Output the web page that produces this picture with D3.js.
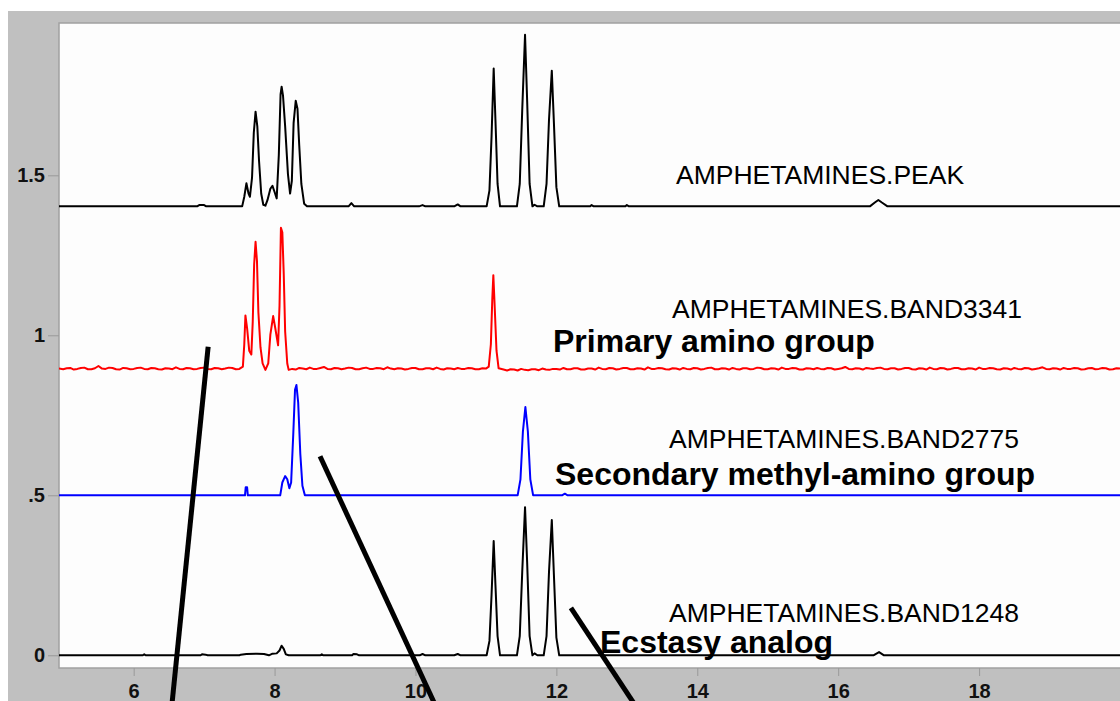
<!DOCTYPE html>
<html>
<head>
<meta charset="utf-8">
<script src="https://cdn.jsdelivr.net/npm/d3@7"></script>
<style>
  html, body { margin: 0; padding: 0; background: #ffffff; }
  svg { display: block; }
  text { font-family: Arial, "Liberation Sans", sans-serif; }
</style>
</head>
<body>
<svg id="chart" width="1120" height="701"></svg>
<script>
// ---------- data ----------
const xTicks = [6, 8, 10, 12, 14, 16, 18];
const yTicks = [0, 0.5, 1, 1.5];
const yTickLabels = ["0", ".5", "1", "1.5"];

const seriesNames = ["AMPHETAMINES.PEAK", "AMPHETAMINES.BAND3341", "AMPHETAMINES.BAND2775", "AMPHETAMINES.BAND1248"];
const seriesOffsets = [1.403, 0.892, 0.5, 0.0];
const seriesColors = ["#000000", "#ff0000", "#0000ff", "#000000"];
const groupNotes = ["", "Primary amino group", "Secondary methyl-amino group", "Ecstasy analog"];

// [retention time, signal above baseline]
const peakTrace = [
  [4.94,0],[6.9,0],[6.93,0.004],[7.0,0.004],[7.03,0],
  [7.54,0],[7.57,0.03],[7.6,0.072],[7.63,0.04],[7.65,0.03],[7.68,0.09],[7.705,0.23],[7.73,0.296],[7.755,0.25],[7.78,0.14],[7.81,0.04],[7.84,0.005],[7.87,0.002],
  [7.9,0.02],[7.94,0.055],[7.97,0.064],[8.0,0.045],[8.03,0.025],[8.06,0.16],[8.085,0.35],[8.1,0.374],[8.12,0.345],[8.15,0.25],[8.19,0.1],[8.22,0.04],[8.245,0.08],[8.27,0.26],[8.3,0.33],[8.325,0.305],[8.35,0.19],[8.38,0.07],[8.42,0.008],[8.46,0],
  [9.05,0],[9.09,0.01],[9.13,0],[10.05,0],[10.1,0.004],[10.14,0],[10.55,0],[10.6,0.006],[10.64,0],
  [11.01,0],[11.05,0.05],[11.08,0.22],[11.11,0.431],[11.135,0.27],[11.165,0.07],[11.2,0],
  [11.44,0],[11.48,0.07],[11.515,0.3],[11.555,0.536],[11.585,0.33],[11.62,0.07],[11.66,0],
  [11.69,0.005],[11.73,0],
  [11.82,0],[11.86,0.07],[11.895,0.27],[11.935,0.424],[11.965,0.26],[12.0,0.06],[12.04,0],
  [12.48,0],[12.5,0.004],[12.53,0],[12.98,0],[13.0,0.004],[13.03,0],
  [16.45,0],[16.52,0.012],[16.57,0.02],[16.62,0.012],[16.7,0],[20,0]
];

const band3341Trace = [
  [4.94,0.004],[5.0,0.002],[5.05,0.005],[5.1,0.006],[5.15,0.001],[5.2,0.003],[5.25,0.006],[5.3,0.007],[5.35,0.002],[5.4,0.002],[5.45,0.005],[5.5,0.012],[5.55,0.004],[5.6,0.003],[5.65,0.007],[5.7,0.006],[5.75,0.002],[5.8,0.001],[5.85,0.006],[5.9,0.005],[5.95,0.002],[6.0,0.003],[6.05,0.006],[6.1,0.007],[6.15,0.003],[6.2,0.002],[6.25,0.006],[6.3,0.005],[6.35,0.002],[6.4,0.001],[6.45,0.005],[6.5,0.004],[6.55,0.002],[6.6,0.008],[6.65,0.003],[6.7,0.002],[6.75,0.006],[6.8,0.005],[6.85,0.002],[6.9,0.003],[6.95,0.006],[7.0,0.007],[7.05,0.003],[7.1,0.002],[7.15,0.006],[7.2,0.005],[7.25,0.002],[7.3,0.004],[7.35,0.007],[7.4,0.006],[7.45,0.002],[7.5,0.003],
  [7.55,0.01],[7.57,0.08],[7.586,0.17],[7.61,0.13],[7.64,0.06],[7.67,0.048],[7.69,0.15],[7.71,0.33],[7.73,0.40],[7.75,0.34],[7.77,0.18],[7.8,0.07],[7.83,0.02],[7.87,0.0],[7.91,0.02],[7.94,0.11],[7.98,0.168],[8.01,0.13],[8.05,0.077],[8.07,0.2],[8.09,0.444],[8.11,0.43],[8.13,0.3],[8.15,0.12],[8.18,0.02],[8.2,0.0],
  [8.25,0.003],[8.3,0.001],[8.35,0.006],[8.4,0.004],[8.45,0.002],[8.5,0.007],[8.55,0.003],[8.6,0.003],[8.65,0.006],[8.7,0.009],[8.75,0.003],[8.8,0.002],[8.85,0.006],[8.9,0.005],[8.95,0.002],[9.0,0.004],[9.05,0.007],[9.1,0.006],[9.15,0.002],[9.2,0.002],[9.25,0.005],[9.3,0.007],[9.35,0.003],[9.4,0.003],[9.45,0.006],[9.5,0.005],[9.55,0.002],[9.6,0.008],[9.65,0.004],[9.7,0.002],[9.75,0.005],[9.8,0.004],[9.85,0.001],[9.9,0.003],[9.95,0.006],[10.0,0.006],[10.05,0.002],[10.1,0.002],[10.15,0.005],[10.2,0.005],[10.25,0.002],[10.3,0.007],[10.35,0.003],[10.4,0.001],[10.45,0.005],[10.5,0.004],[10.55,0.002],[10.6,0.006],[10.65,0.003],[10.7,0.003],[10.75,0.006],[10.8,0.005],[10.85,0.002],[10.9,0.002],[10.95,0.005],[11.0,0.004],
  [11.04,0.01],[11.07,0.08],[11.09,0.22],[11.105,0.296],[11.12,0.22],[11.15,0.06],[11.18,0.005],
  [11.25,0.001],[11.3,-0.002],[11.35,0.002],[11.4,0.001],[11.45,-0.002],[11.5,0.003],[11.55,0.0],[11.6,-0.001],[11.65,0.002],[11.7,0.002],[11.75,-0.001],[11.8,0.004],[11.85,0.001],[11.9,0.0],[11.95,0.003],[12.0,0.003],[12.05,0.001],[12.1,0.006],[12.15,0.002],[12.2,0.002],[12.25,0.005],[12.3,0.005],[12.35,0.001],[12.4,0.001],[12.45,0.004],[12.5,0.004],[12.55,0.001],[12.6,0.007],[12.65,0.003],[12.7,0.002],[12.75,0.006],[12.8,0.005],[12.85,0.001],[12.9,0.003],[12.95,0.006],[13.0,0.006],[13.05,0.002],[13.1,0.002],[13.15,0.005],[13.2,0.004],[13.25,0.001],[13.3,0.008],[13.35,0.003],[13.4,0.003],[13.45,0.006],[13.5,0.005],[13.55,0.002],[13.6,0.001],[13.65,0.005],[13.7,0.004],[13.75,0.001],[13.8,0.006],[13.85,0.003],[13.9,0.002],[13.95,0.006],[14.0,0.005],[14.05,0.001],[14.1,0.003],[14.15,0.006],[14.2,0.007],[14.25,0.002],[14.3,0.002],[14.35,0.005],[14.4,0.004],[14.45,0.001],[14.5,0.006],[14.55,0.003],[14.6,0.001],[14.65,0.005],[14.7,0.005],[14.75,0.002],[14.8,0.003],[14.85,0.007],[14.9,0.006],[14.95,0.002],[15.0,0.002],[15.05,0.005],[15.1,0.004],[15.15,0.001],[15.2,0.007],[15.25,0.003],[15.3,0.003],[15.35,0.006],[15.4,0.005],[15.45,0.001],[15.5,0.001],[15.55,0.005],[15.6,0.004],[15.65,0.002],[15.7,0.006],[15.75,0.003],[15.8,0.002],[15.85,0.006],[15.9,0.005],[15.95,0.001],[16.0,0.003],[16.05,0.005],[16.1,0.009],[16.15,0.003],[16.2,0.002],[16.25,0.005],[16.3,0.004],[16.35,0.001],[16.4,0.006],[16.45,0.004],[16.5,0.003],[16.55,0.006],[16.6,0.007],[16.65,0.003],[16.7,0.002],[16.75,0.005],[16.8,0.005],[16.85,0.001],[16.9,0.003],[16.95,0.006],[17.0,0.006],[17.05,0.002],[17.1,0.001],[17.15,0.005],[17.2,0.004],[17.25,0.001],[17.3,0.007],[17.35,0.003],[17.4,0.002],[17.45,0.006],[17.5,0.005],[17.55,0.001],[17.6,0.003],[17.65,0.006],[17.7,0.006],[17.75,0.002],[17.8,0.002],[17.85,0.005],[17.9,0.004],[17.95,0.001],[18.0,0.007],[18.05,0.003],[18.1,0.003],[18.15,0.006],[18.2,0.005],[18.25,0.002],[18.3,0.001],[18.35,0.005],[18.4,0.004],[18.45,0.001],[18.5,0.006],[18.55,0.003],[18.6,0.002],[18.65,0.006],[18.7,0.005],[18.75,0.001],[18.8,0.003],[18.85,0.005],[18.9,0.008],[18.95,0.003],[19.0,0.002],[19.05,0.005],[19.1,0.004],[19.15,0.001],[19.2,0.006],[19.25,0.003],[19.3,0.003],[19.35,0.006],[19.4,0.005],[19.45,0.001],[19.5,0.002],[19.55,0.005],[19.6,0.006],[19.65,0.002],[19.7,0.003],[19.75,0.006],[19.8,0.005],[19.85,0.001],[19.9,0.002],[19.95,0.005],[20.0,0.004]
];

const band2775Trace = [
  [4.94,0],[7.58,0],[7.59,0.025],[7.61,0.025],[7.62,0],
  [8.08,0],[8.11,0.04],[8.15,0.06],[8.18,0.05],[8.21,0.022],[8.235,0.04],[8.265,0.19],[8.29,0.33],[8.31,0.345],[8.335,0.29],[8.365,0.13],[8.395,0.03],[8.43,0],
  [11.45,0],[11.49,0.05],[11.525,0.2],[11.56,0.276],[11.595,0.2],[11.63,0.05],[11.67,0],
  [12.08,0],[12.12,0.005],[12.16,0],[20,0]
];

const band1248Trace = [
  [4.94,0],[6.13,0],[6.15,0.003],[6.17,0],[6.95,0],[6.97,0.003],[7.02,0.002],[7.05,0],
  [7.5,0],[7.52,0.002],[7.6,0.004],[7.75,0.005],[7.85,0.004],[7.92,0.0],[7.97,0.005],[8.03,0.006],[8.07,0.015],[8.1,0.03],[8.13,0.02],[8.16,0.003],[8.2,0],
  [8.65,0],[8.67,0.003],[8.69,0],[9.1,0],[9.12,0.004],[9.17,0.003],[9.2,0],
  [10.06,0],[10.1,0.004],[10.14,0],[10.55,0],[10.6,0.004],[10.64,0],
  [11.01,0],[11.05,0.045],[11.08,0.19],[11.11,0.357],[11.135,0.22],[11.165,0.06],[11.2,0],
  [11.44,0],[11.48,0.06],[11.515,0.26],[11.555,0.463],[11.585,0.29],[11.62,0.06],[11.66,0],[11.69,0.006],[11.73,0],
  [11.82,0],[11.86,0.06],[11.895,0.26],[11.935,0.423],[11.965,0.25],[12.0,0.055],[12.04,0],
  [16.5,0],[16.58,0.01],[16.65,0],[20,0]
];

const traces = [peakTrace, band3341Trace, band2775Trace, band1248Trace];

// annotation pointer lines: [[t1, v1], [t2, v2]]
const pointerLines = [
  [[7.057, 0.964], [6.54, -0.16]],
  [[8.645, 0.622], [10.29, -0.16]],
  [[12.206, 0.148], [13.13, -0.16]]
];

// ---------- layout ----------
const W = 1120, H = 701;
const plot = { left: 59, top: 23, right: 1120, bottom: 668 };

const svg = d3.select("#chart");

svg.append("rect").attr("x", 8).attr("y", 11).attr("width", W - 8).attr("height", H - 11).attr("fill", "#c0c0c0");

const x = d3.scaleLinear().domain([4.94, 20.0]).range([plot.left, plot.right]);
const y = d3.scaleLinear().domain([-0.0397, 1.976]).range([plot.bottom, plot.top]);

svg.append("rect")
  .attr("x", plot.left).attr("y", plot.top)
  .attr("width", plot.right - plot.left + 2).attr("height", plot.bottom - plot.top)
  .attr("fill", "#fdfdfd").attr("stroke", "#a0a0a0").attr("stroke-width", 1.5);

svg.append("clipPath").attr("id", "clip")
  .append("rect").attr("x", plot.left).attr("y", plot.top)
  .attr("width", plot.right - plot.left).attr("height", plot.bottom - plot.top);

const tickFont = "Arial, 'Liberation Sans', sans-serif";

// axes
const yAxis = d3.axisLeft(y).tickValues(yTicks).tickFormat((d, i) => yTickLabels[i]).tickSize(11).tickPadding(3);
const gy = svg.append("g").attr("transform", `translate(${plot.left},0)`).call(yAxis);
gy.attr("font-size", null).attr("font-family", null);
gy.select(".domain").remove();
gy.selectAll(".tick line").attr("stroke", "#999999");
gy.selectAll(".tick text").attr("fill", "#111")
  .style("font-size", "20px").style("font-weight", "bold").style("font-family", tickFont);

const xAxis = d3.axisBottom(x).tickValues(xTicks).tickSize(8).tickPadding(8);
const gx = svg.append("g").attr("transform", `translate(0,${plot.bottom})`).call(xAxis);
gx.attr("font-size", null).attr("font-family", null);
gx.select(".domain").remove();
gx.selectAll(".tick line").attr("stroke", "#999999");
gx.selectAll(".tick text").attr("fill", "#111")
  .style("font-size", "20px").style("font-weight", "bold").style("font-family", tickFont);

// traces
const curves = svg.append("g").attr("clip-path", "url(#clip)");
traces.forEach((tr, i) => {
  const line = d3.line().x(d => x(d[0])).y(d => y(d[1] + seriesOffsets[i]));
  curves.append("path").datum(tr)
    .attr("d", line)
    .attr("fill", "none")
    .attr("stroke", seriesColors[i])
    .attr("stroke-width", 2)
    .attr("stroke-linejoin", "round");
});

// labels
const nameLabelPos = [[676, 184], [672, 318], [669, 448], [669, 622]];
const noteLabelPos = [null, [553, 352], [555, 485], [600, 653]];
seriesNames.forEach((n, i) => {
  svg.append("text").attr("x", nameLabelPos[i][0]).attr("y", nameLabelPos[i][1])
    .style("font-size", "26.5px").attr("fill", "#000").text(n);
});
groupNotes.forEach((n, i) => {
  if (!n) return;
  svg.append("text").attr("x", noteLabelPos[i][0]).attr("y", noteLabelPos[i][1])
    .style("font-size", "32px").style("font-weight", "bold").attr("fill", "#000").text(n);
});

// pointer lines
pointerLines.forEach(pl => {
  svg.append("line")
    .attr("x1", x(pl[0][0])).attr("y1", y(pl[0][1]))
    .attr("x2", x(pl[1][0])).attr("y2", y(pl[1][1]))
    .attr("stroke", "#000").attr("stroke-width", 5);
});
</script>
</body>
</html>
